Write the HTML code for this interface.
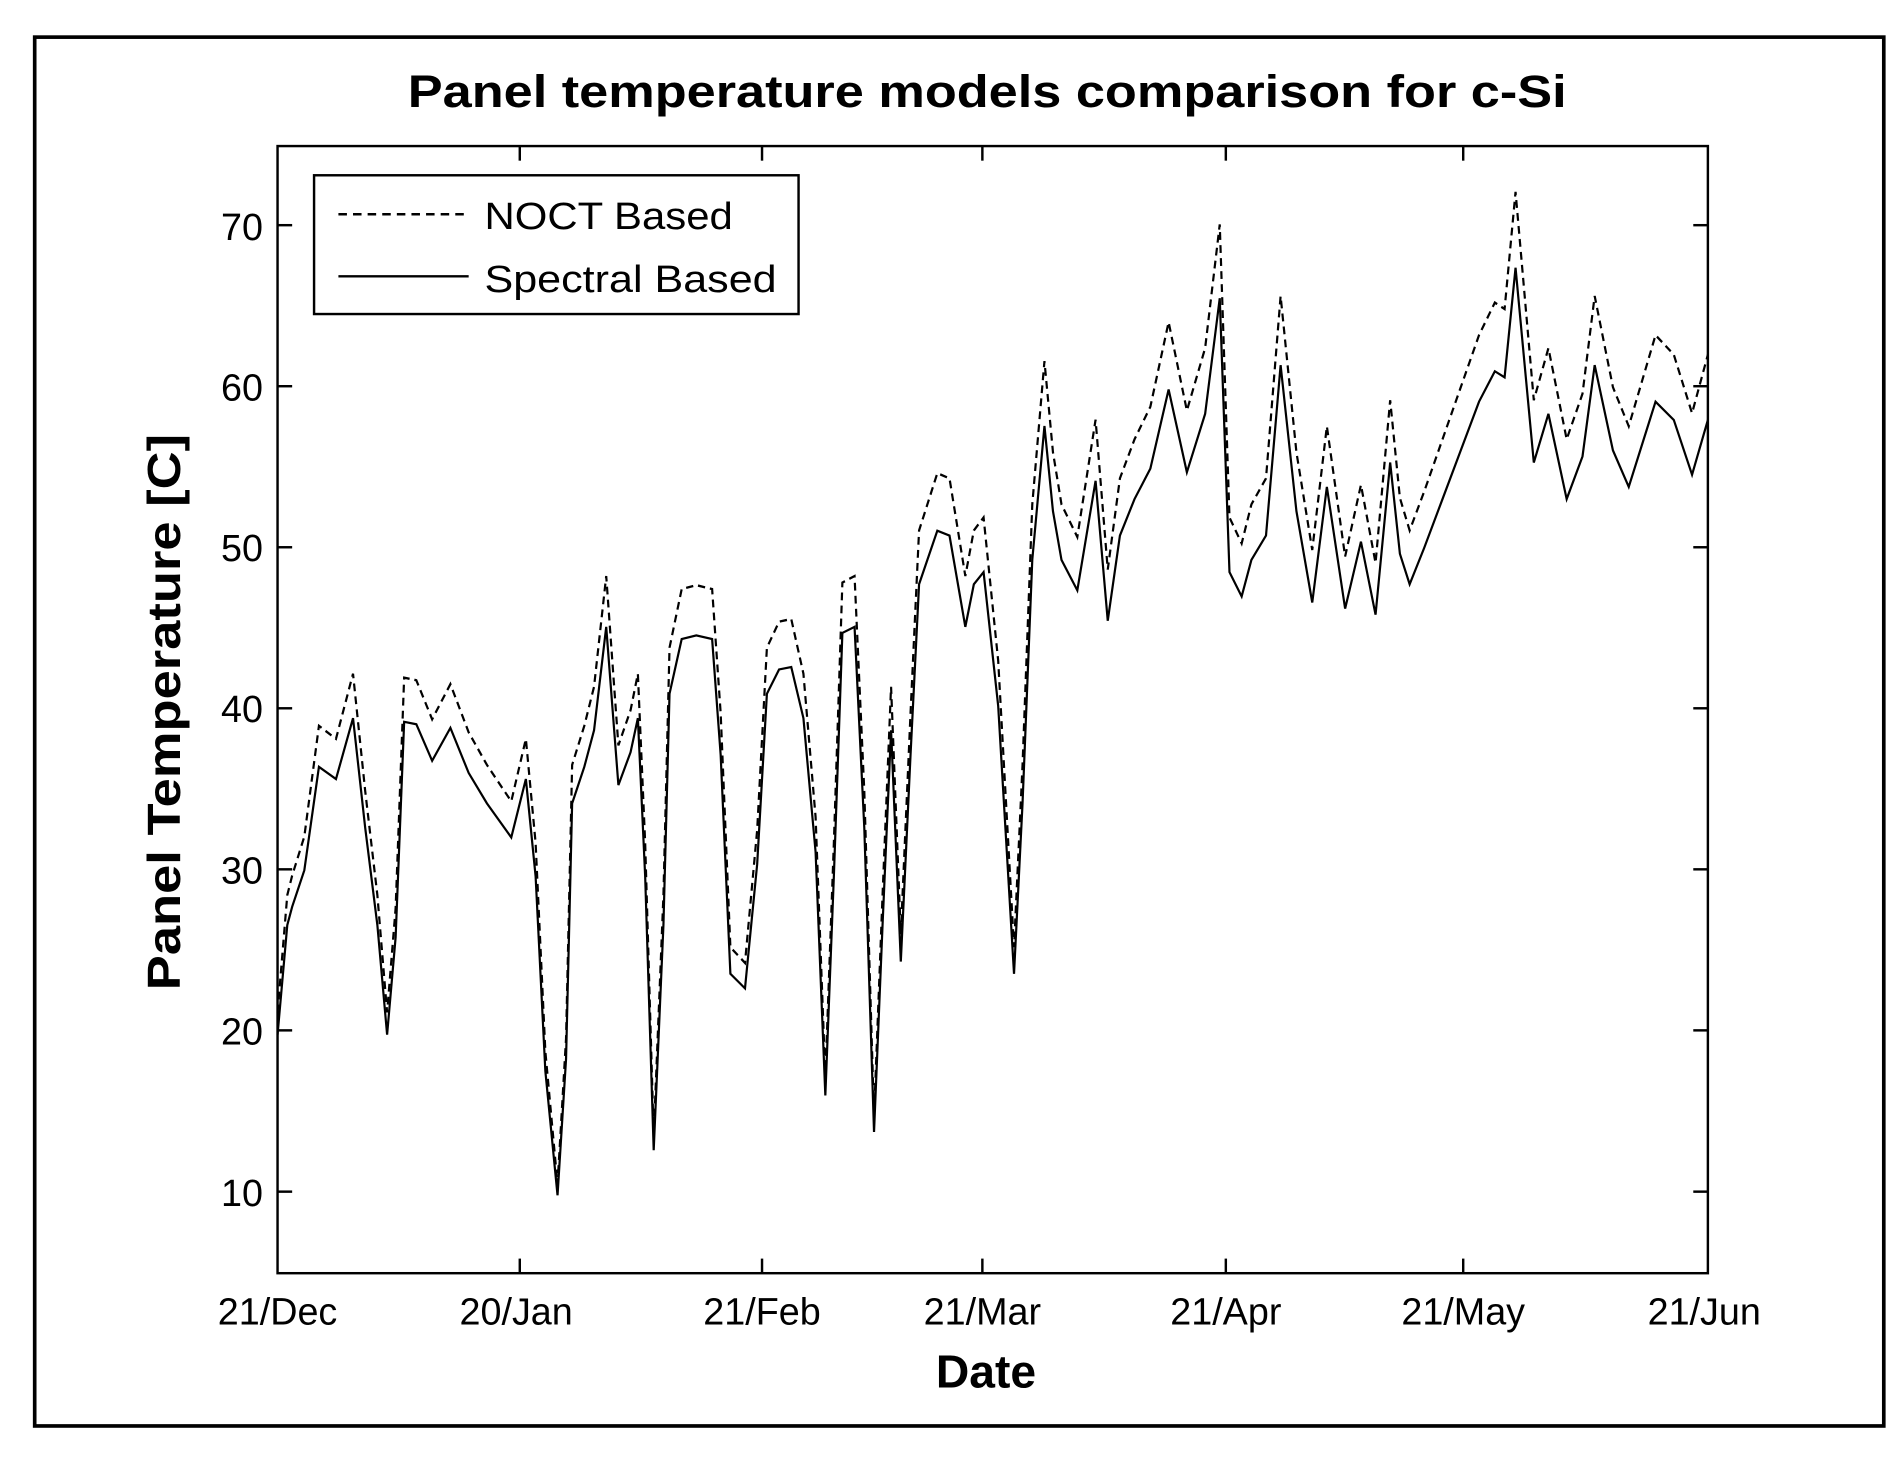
<!DOCTYPE html>
<html><head><meta charset="utf-8"><style>html,body{margin:0;padding:0;background:#fff}svg{display:block}</style></head>
<body>
<svg width="1899" height="1457" viewBox="0 0 1560 1197" preserveAspectRatio="none" xmlns="http://www.w3.org/2000/svg" font-family="Liberation Sans, sans-serif">
<rect x="0" y="0" width="1560" height="1197" fill="#fff"/>
<rect x="28.5" y="30.5" width="1519" height="1141" fill="none" stroke="#000" stroke-width="3"/>
<text x="811" y="88" font-size="37" font-weight="bold" text-anchor="middle" textLength="952" lengthAdjust="spacingAndGlyphs">Panel temperature models comparison for c-Si</text>
<rect x="228" y="120" width="1175" height="926" fill="none" stroke="#000" stroke-width="2"/>
<g stroke="#000" stroke-width="2">
<line x1="228" y1="185" x2="240" y2="185"/><line x1="1391" y1="185" x2="1403" y2="185"/>
<line x1="228" y1="317.3" x2="240" y2="317.3"/><line x1="1391" y1="317.3" x2="1403" y2="317.3"/>
<line x1="228" y1="449.6" x2="240" y2="449.6"/><line x1="1391" y1="449.6" x2="1403" y2="449.6"/>
<line x1="228" y1="581.9" x2="240" y2="581.9"/><line x1="1391" y1="581.9" x2="1403" y2="581.9"/>
<line x1="228" y1="714.2" x2="240" y2="714.2"/><line x1="1391" y1="714.2" x2="1403" y2="714.2"/>
<line x1="228" y1="846.5" x2="240" y2="846.5"/><line x1="1391" y1="846.5" x2="1403" y2="846.5"/>
<line x1="228" y1="979" x2="240" y2="979"/><line x1="1391" y1="979" x2="1403" y2="979"/>
<line x1="427" y1="1046" x2="427" y2="1034"/><line x1="427" y1="120" x2="427" y2="132"/>
<line x1="626" y1="1046" x2="626" y2="1034"/><line x1="626" y1="120" x2="626" y2="132"/>
<line x1="807" y1="1046" x2="807" y2="1034"/><line x1="807" y1="120" x2="807" y2="132"/>
<line x1="1007" y1="1046" x2="1007" y2="1034"/><line x1="1007" y1="120" x2="1007" y2="132"/>
<line x1="1202" y1="1046" x2="1202" y2="1034"/><line x1="1202" y1="120" x2="1202" y2="132"/>
</g>
<g font-size="31" text-anchor="end">
<text x="216" y="197">70</text><text x="216" y="329">60</text><text x="216" y="461">50</text>
<text x="216" y="593">40</text><text x="216" y="726">30</text><text x="216" y="858">20</text><text x="216" y="991">10</text>
</g>
<g font-size="31" text-anchor="middle">
<text x="228" y="1088">21/Dec</text><text x="424" y="1088">20/Jan</text><text x="626" y="1088">21/Feb</text>
<text x="807" y="1088">21/Mar</text><text x="1007" y="1088">21/Apr</text><text x="1202" y="1088">21/May</text><text x="1400" y="1088">21/Jun</text>
</g>
<text x="810" y="1140" font-size="38" font-weight="bold" text-anchor="middle">Date</text>
<text transform="translate(148,585) rotate(-90)" font-size="38" font-weight="bold" text-anchor="middle" textLength="457" lengthAdjust="spacingAndGlyphs">Panel Temperature [C]</text>
<g id="data" fill="none" stroke="#000" stroke-width="1.8" stroke-linejoin="miter">
<polyline id="sp" points="228,850 236,760 240,745 250,715 262,630 276,640 290,590 300,680 310,760 318,850 325,770 332,593 342,595 355,625 370,598 385,635 400,660 420,688 432,640 440,720 448,880 458,982 465,870 470,660 480,630 488,600 498,515 508,645 518,618 524,590 530,720 537,945 545,760 550,570 560,525 572,522 585,525 592,620 600,800 612,812 622,710 630,570 640,550 650,548 660,590 670,700 678,900 685,720 692,520 702,515 710,680 718,930 725,760 732,600 740,790 748,620 755,480 770,436 780,440 793,515 800,480 808,470 820,580 833,800 840,660 848,460 858,350 865,420 872,460 885,485 900,395 910,510 920,440 932,410 945,385 960,320 975,388 990,340 1002,245 1010,470 1020,490 1028,460 1040,440 1052,300 1065,420 1078,495 1090,400 1105,500 1118,445 1130,505 1142,380 1150,455 1158,480 1170,450 1185,410 1200,370 1215,330 1228,305 1236,310 1245,220 1260,380 1272,340 1287,410 1300,375 1310,300 1325,370 1338,400 1360,330 1375,345 1390,390 1403,345"/>
<polyline transform="matrix(1,0,0,1.07,0,-77.8)" stroke-dasharray="6,4" points="228,850 236,760 240,745 250,715 262,630 276,640 290,590 300,680 310,760 318,850 325,770 332,593 342,595 355,625 370,598 385,635 400,660 420,688 432,640 440,720 448,880 458,982 465,870 470,660 480,630 488,600 498,515 508,645 518,618 524,590 530,720 537,945 545,760 550,570 560,525 572,522 585,525 592,620 600,800 612,812 622,710 630,570 640,550 650,548 660,590 670,700 678,900 685,720 692,520 702,515 710,680 718,930 725,760 732,600 740,790 748,620 755,480 770,436 780,440 793,515 800,480 808,470 820,580 833,800 840,660 848,460 858,350 865,420 872,460 885,485 900,395 910,510 920,440 932,410 945,385 960,320 975,388 990,340 1002,245 1010,470 1020,490 1028,460 1040,440 1052,300 1065,420 1078,495 1090,400 1105,500 1118,445 1130,505 1142,380 1150,455 1158,480 1170,450 1185,410 1200,370 1215,330 1228,305 1236,310 1245,220 1260,380 1272,340 1287,410 1300,375 1310,300 1325,370 1338,400 1360,330 1375,345 1390,390 1403,345"/>
</g>
<rect x="258" y="144" width="398" height="114" fill="#fff" stroke="#000" stroke-width="2"/>
<line x1="278" y1="176" x2="385" y2="176" stroke="#000" stroke-width="2" stroke-dasharray="7,5"/>
<line x1="278" y1="227" x2="385" y2="227" stroke="#000" stroke-width="2"/>
<text x="398" y="188" font-size="31" textLength="204" lengthAdjust="spacingAndGlyphs">NOCT Based</text>
<text x="398" y="240" font-size="31" textLength="240" lengthAdjust="spacingAndGlyphs">Spectral Based</text>
</svg>
</body></html>
